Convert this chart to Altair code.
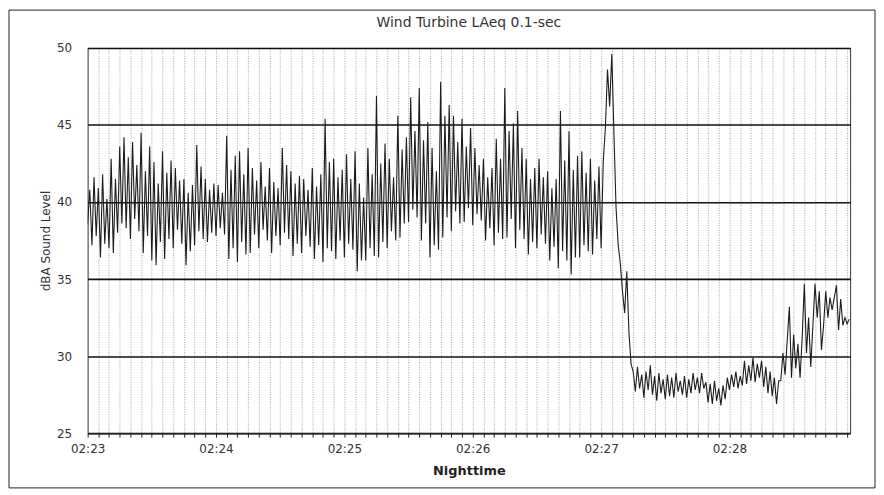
import altair as alt
import pandas as pd

# dBA level, one reading per second (alternating crest / trough)
level_0223 = [38.6, 40.8, 37.2, 41.6, 37.8, 40.9, 36.4, 41.8, 37.3, 40.2,
              37.0, 42.8, 36.7, 41.5, 38.0, 43.6, 38.6, 44.2, 38.3, 42.9,
              37.6, 43.9, 38.9, 42.4, 38.1, 44.5, 36.7, 42.0, 37.8, 43.6,
              36.2, 42.6, 35.9, 41.2, 37.4, 43.3, 36.3, 41.9, 37.6, 42.7,
              37.0, 42.2, 38.2, 41.4, 37.3, 41.5, 35.9, 40.6, 36.8, 41.1,
              37.2, 43.7, 38.1, 42.3, 37.6, 41.5, 37.4, 40.8, 38.0, 41.2]
level_0224 = [37.8, 41.1, 38.3, 40.6, 37.9, 44.3, 36.3, 42.1, 37.0, 43.0,
              36.1, 43.3, 37.4, 41.8, 36.6, 43.5, 36.7, 42.2, 37.9, 41.4,
              37.0, 42.6, 38.2, 41.0, 37.5, 42.2, 36.7, 41.3, 37.8, 40.9,
              37.2, 43.5, 38.0, 42.4, 37.6, 42.0, 36.5, 41.2, 37.3, 41.7,
              36.7, 41.5, 37.8, 40.8, 37.1, 42.2, 36.3, 41.0, 37.2, 41.8,
              36.1, 45.4, 37.0, 42.6, 36.8, 42.8, 36.3, 41.6, 37.5, 42.1]
level_0225 = [36.4, 43.1, 37.3, 41.5, 36.9, 43.3, 35.5, 41.2, 36.2, 40.3,
              36.2, 43.5, 37.0, 41.8, 36.5, 46.9, 36.4, 42.5, 37.4, 43.8,
              37.0, 42.8, 38.1, 41.6, 37.5, 45.6, 37.7, 43.4, 38.6, 44.2,
              38.7, 46.8, 39.5, 44.6, 39.0, 47.4, 37.5, 44.0, 38.6, 45.2,
              36.4, 43.5, 37.2, 42.0, 36.9, 47.8, 37.7, 45.6, 39.0, 46.3,
              38.1, 45.6, 39.4, 43.9, 38.6, 45.4, 38.7, 43.6, 39.6, 44.8]
level_0226 = [38.5, 43.5, 39.2, 42.4, 38.8, 42.8, 37.5, 41.6, 38.3, 42.2,
              37.2, 44.1, 38.0, 42.8, 37.6, 47.4, 37.7, 44.6, 38.9, 45.1,
              37.0, 45.9, 38.2, 43.5, 37.6, 42.8, 36.6, 41.5, 37.4, 42.2,
              37.0, 42.8, 37.9, 41.6, 37.3, 42.0, 36.2, 40.9, 37.1, 41.5,
              35.7, 45.9, 36.8, 42.7, 36.2, 44.6, 35.3, 42.1, 36.4, 43.0,
              36.4, 43.3, 37.2, 41.9, 36.8, 42.8, 36.6, 41.4, 37.6, 42.3]
level_0227 = [37.0, 42.6, 44.8, 48.6, 46.2, 49.6, 44.5, 39.6, 37.2, 36.0,
              34.2, 32.8, 35.5, 31.6, 29.5, 29.0, 27.7, 29.3, 27.9, 28.8,
              27.3, 29.0, 27.8, 29.4, 27.5, 28.7, 27.1, 28.9, 27.6, 28.5,
              27.2, 28.8, 27.4, 28.6, 27.3, 28.9, 27.7, 28.4, 27.5, 28.7,
              27.3, 28.5, 27.6, 28.9, 27.8, 28.6, 27.6, 28.9, 27.9, 28.3,
              27.0, 28.2, 26.9, 28.4, 27.1, 27.9, 26.8, 28.1, 27.2, 28.6]
level_0228 = [27.8, 28.8, 28.0, 29.0, 27.9, 28.7, 28.1, 29.7, 28.2, 29.4,
              28.4, 29.9, 28.3, 29.5, 28.6, 29.7, 28.0, 29.3, 27.6, 29.0,
              27.4, 28.6, 26.9, 28.4, 28.4, 30.2, 28.8, 31.0, 33.2, 28.6,
              31.4, 29.2, 30.8, 28.6, 31.2, 34.7, 30.2, 32.5, 29.3, 32.0,
              34.7, 32.5, 34.2, 30.4, 32.0, 34.2, 32.5, 33.8, 33.0, 33.8,
              34.6, 31.7, 33.7, 32.0, 32.5, 32.1, 32.4]

levels = level_0223 + level_0224 + level_0225 + level_0226 + level_0227 + level_0228
df = pd.DataFrame({"sec": list(range(len(levels))), "dBA": levels})

y_ticks = [25, 30, 35, 40, 45, 50]
x_ticks = list(range(0, 360, 5))

FONT = "DejaVu Sans"

line = alt.Chart(df).mark_line(color="#1c1c1c", strokeWidth=1.1, clip=True).encode(
    x=alt.X("sec:Q",
            scale=alt.Scale(domain=[0, 356.4], nice=False, zero=False),
            axis=alt.Axis(values=x_ticks,
                          labelExpr="datum.value % 60 == 0 ? '02:' + (23 + datum.value / 60) : ''",
                          title="Nighttime", titleFont=FONT, titleFontSize=13,
                          titleFontWeight="bold", titleColor="#222", titlePadding=11,
                          labelFont=FONT, labelFontSize=12, labelColor="#333",
                          labelPadding=6, labelOverlap=False, labelFlush=False,
                          grid=True, gridColor="#8a8a8a", gridDash=[1, 1.5], gridWidth=0.8,
                          ticks=True, tickSize=4, tickColor="#222",
                          domain=True, domainColor="#222")),
    y=alt.Y("dBA:Q",
            scale=alt.Scale(domain=[25, 50], nice=False, zero=False),
            axis=alt.Axis(values=y_ticks, title="dBA Sound Level",
                          titleFont=FONT, titleFontSize=12, titleFontWeight="normal",
                          titleColor="#333", titlePadding=4,
                          labelFont=FONT, labelFontSize=12, labelColor="#333",
                          labelPadding=16, ticks=False,
                          grid=True, gridColor="#111", gridWidth=1.6,
                          domain=False)),
)

frame = alt.Chart(pd.DataFrame({"k": [0]})).mark_rect(
    fillOpacity=0, stroke="#222", strokeWidth=1
).encode(x=alt.value(-79), x2=alt.value(791), y=alt.value(-38), y2=alt.value(442))

chart = alt.layer(line, frame).properties(
    width=766, height=387, padding=0,
    title=alt.TitleParams("Wind Turbine LAeq 0.1-sec", font=FONT, fontSize=14,
                          fontWeight="normal", color="#333", offset=-20),
).configure_view(stroke="#333", strokeWidth=1)

chart.save("out.html", embed_options={"renderer": "svg", "actions": False})
